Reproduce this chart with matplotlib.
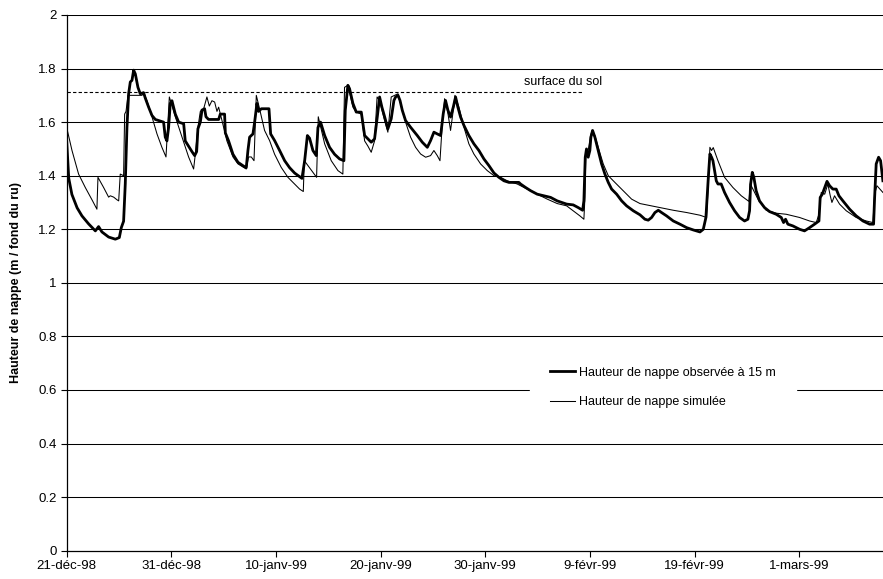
import matplotlib
matplotlib.use("Agg")
import matplotlib.pyplot as plt

plt.rcParams['font.family'] = ['Liberation Sans', 'DejaVu Sans']

# days since 21-déc-98
obs_days = [0.00, 0.20, 0.50, 1.00, 1.46, 2.10, 2.74, 3.05, 3.37, 4.01, 4.65, 5.03, 5.22, 5.44, 5.60,
            5.76, 5.92, 6.08, 6.24, 6.40, 6.56, 6.81, 7.03, 7.35, 7.51, 7.83, 8.15, 8.47, 8.79, 9.26,
            9.42, 9.58, 9.74, 9.90, 10.06, 10.38, 10.70, 11.18, 11.33, 11.65, 11.97, 12.23, 12.42,
            12.54, 12.77, 12.93, 13.18, 13.31, 13.56, 14.52, 14.68, 15.09, 15.16, 15.47, 15.89, 16.37,
            16.84, 17.16, 17.32, 17.48, 17.80, 17.96, 18.18, 18.34, 18.60, 19.33, 19.49, 19.87, 20.35,
            20.83, 21.30, 21.78, 22.26, 22.48, 22.74, 23.00, 23.21, 23.53, 23.85, 24.01, 24.26, 24.65,
            25.12, 25.60, 26.08, 26.49, 26.62, 26.87, 27.03, 27.35, 27.67, 28.15, 28.47, 28.79, 29.10,
            29.42, 29.68, 29.90, 30.12, 30.38, 30.69, 31.01, 31.27, 31.43, 31.66, 31.85, 32.07, 32.38,
            32.86, 33.50, 33.98, 34.46, 34.77, 35.09, 35.41, 35.73, 35.98, 36.20, 36.43, 36.68, 36.94,
            37.16, 37.38, 37.64, 37.96, 38.43, 38.91, 39.39, 39.87, 40.35, 40.83, 41.30, 41.78, 42.26,
            42.74, 43.21, 43.37, 43.85, 44.33, 44.96, 45.60, 46.24, 46.87, 47.77, 48.40, 48.88, 49.30,
            49.42, 49.55, 49.67, 49.83, 49.99, 50.09, 50.25, 50.47, 50.79, 51.11, 51.43, 51.75, 52.07,
            52.55, 53.03, 53.50, 54.14, 54.78, 55.25, 55.57, 55.89, 56.21, 56.53, 56.84, 57.32, 57.96,
            58.60, 59.24, 59.87, 60.51, 60.83, 61.08, 61.31, 61.46, 61.62, 61.75, 62.07, 62.23, 62.54,
            62.86, 63.34, 63.82, 64.30, 64.77, 65.09, 65.25, 65.35, 65.51, 65.66, 65.88, 66.20, 66.68,
            67.16, 67.80, 68.28, 68.50, 68.69, 68.91, 69.39, 70.03, 70.50, 70.98, 71.46, 71.88, 72.00,
            72.20, 72.43, 72.65, 72.90, 73.21, 73.53, 73.79, 74.17, 74.81, 75.44, 76.08, 76.72, 77.10,
            77.20, 77.35, 77.58, 77.77, 77.99]
obs_vals = [1.53, 1.39, 1.33, 1.28, 1.25, 1.22, 1.194, 1.21, 1.19, 1.171, 1.163, 1.169, 1.206, 1.23, 1.37,
            1.58, 1.706, 1.75, 1.756, 1.794, 1.78, 1.73, 1.706, 1.71, 1.69, 1.656, 1.625, 1.61, 1.606, 1.60,
            1.544, 1.53, 1.58, 1.67, 1.68, 1.63, 1.60, 1.594, 1.53, 1.51, 1.49, 1.475, 1.49,
            1.575, 1.60, 1.645, 1.65, 1.62, 1.61, 1.61, 1.63, 1.63, 1.56, 1.53, 1.48, 1.45,
            1.4375, 1.43, 1.494, 1.544, 1.556, 1.60, 1.67, 1.64, 1.65, 1.65, 1.556, 1.531, 1.494,
            1.456, 1.43, 1.41, 1.396, 1.39, 1.456, 1.55, 1.54, 1.494, 1.475, 1.58, 1.60, 1.55,
            1.506, 1.48, 1.4625, 1.456, 1.644, 1.7375, 1.725, 1.67, 1.6375, 1.6375, 1.55, 1.5375, 1.525,
            1.5375, 1.62, 1.694, 1.656, 1.62, 1.575, 1.6125, 1.681, 1.694, 1.70, 1.681, 1.644, 1.606,
            1.581, 1.55, 1.525, 1.506, 1.531, 1.5625, 1.556, 1.55, 1.631, 1.681, 1.644, 1.619, 1.656,
            1.694, 1.656, 1.619, 1.5875, 1.55, 1.519, 1.494, 1.4625, 1.4375, 1.41, 1.394, 1.381, 1.375,
            1.375, 1.375, 1.369, 1.356, 1.344, 1.331, 1.325, 1.319, 1.306, 1.294, 1.291, 1.281, 1.271,
            1.306, 1.469, 1.50, 1.469, 1.494, 1.544, 1.569, 1.544, 1.494, 1.444, 1.406, 1.375, 1.35,
            1.331, 1.306, 1.2875, 1.269, 1.254, 1.2375, 1.234, 1.244, 1.2625, 1.271, 1.2625, 1.25, 1.231,
            1.219, 1.206, 1.1975, 1.19, 1.20, 1.244, 1.394, 1.481, 1.469, 1.456, 1.381, 1.369, 1.369,
            1.3375, 1.30, 1.269, 1.244, 1.231, 1.2375, 1.269, 1.369, 1.4125, 1.394, 1.344, 1.306, 1.281,
            1.266, 1.256, 1.244, 1.225, 1.2375, 1.219, 1.2125, 1.20, 1.194, 1.206, 1.219, 1.231, 1.319,
            1.331, 1.356, 1.379, 1.3625, 1.35, 1.35, 1.325, 1.306, 1.275, 1.25, 1.231, 1.219, 1.219,
            1.319, 1.444, 1.469, 1.456, 1.381]

sim_days = [0.00, 0.51, 1.14, 1.78, 2.42, 2.89, 2.99, 3.53, 4.01, 4.17, 4.49, 4.81, 4.97, 5.12, 5.44,
            5.54, 5.67, 5.86, 7.20, 7.35, 7.67, 8.15, 8.63, 9.10, 9.49, 9.81, 10.38, 11.02, 11.65, 12.13,
            12.29, 12.54, 12.77, 13.09, 13.40, 13.63, 13.88, 14.14, 14.36, 14.52, 14.84, 15.31, 15.89,
            16.37, 17.16, 17.38, 17.64, 17.90, 18.12, 18.43, 18.91, 19.39, 19.87, 20.50, 21.14, 21.78,
            22.26, 22.61, 22.71, 23.88, 24.04, 24.65, 25.28, 25.92, 26.39, 26.55, 26.87, 27.35, 27.67,
            28.15, 28.47, 28.79, 29.10, 29.42, 29.66, 29.90, 30.38, 30.69, 30.92, 31.01, 31.66, 31.91,
            32.38, 32.86, 33.34, 33.82, 34.30, 34.77, 35.09, 35.41, 35.67, 35.89, 36.11, 36.36, 36.68,
            36.94, 37.10, 37.48, 37.96, 38.43, 38.91, 39.55, 40.19, 40.83, 41.46, 42.10, 43.05, 44.00,
            44.96, 45.92, 46.87, 47.77, 48.40, 49.04, 49.42, 49.52, 49.61, 49.83, 50.06, 50.22, 50.47,
            50.79, 51.27, 51.75, 52.38, 53.18, 53.98, 54.78, 55.41, 56.68, 57.96, 59.24, 60.51, 61.14,
            61.31, 61.46, 61.62, 61.78, 62.23, 62.86, 63.66, 64.46, 65.19, 65.32, 65.41, 66.05, 66.84,
            67.80, 68.76, 70.03, 70.98, 71.62, 71.88, 72.10, 72.43, 72.73, 72.96, 73.12, 73.37, 73.85,
            74.49, 75.44, 76.40, 77.04, 77.20, 77.42, 77.99]
sim_vals = [1.58, 1.494, 1.406, 1.356, 1.31, 1.275, 1.394, 1.356, 1.32, 1.325, 1.32, 1.31, 1.306, 1.406, 1.40,
            1.63, 1.64, 1.70, 1.70, 1.712, 1.68, 1.62, 1.556, 1.506, 1.47, 1.694, 1.62, 1.544, 1.47, 1.425,
            1.48, 1.58, 1.64, 1.65, 1.694, 1.66, 1.68, 1.675, 1.64, 1.656, 1.606, 1.53, 1.47,
            1.444, 1.425, 1.47, 1.47, 1.456, 1.70, 1.65, 1.569, 1.531, 1.48, 1.431, 1.394, 1.369,
            1.35, 1.341, 1.456, 1.394, 1.62, 1.519, 1.456, 1.419, 1.406, 1.73, 1.7375, 1.656, 1.6375,
            1.63, 1.53, 1.51, 1.4875, 1.53, 1.694, 1.68, 1.606, 1.5625, 1.656, 1.694, 1.706, 1.669,
            1.60, 1.544, 1.506, 1.481, 1.469, 1.475, 1.494, 1.475, 1.456, 1.594, 1.6875, 1.65, 1.569,
            1.644, 1.70, 1.656, 1.581, 1.519, 1.481, 1.444, 1.419, 1.40, 1.394, 1.381, 1.369, 1.35,
            1.331, 1.3125, 1.296, 1.2875, 1.269, 1.25, 1.2375, 1.319, 1.494, 1.494, 1.55, 1.569, 1.55,
            1.506, 1.444, 1.40, 1.375, 1.344, 1.3125, 1.296, 1.291, 1.281, 1.271, 1.2625, 1.2525, 1.244,
            1.369, 1.506, 1.494, 1.505, 1.456, 1.394, 1.356, 1.325, 1.304, 1.369, 1.3625, 1.3125, 1.271,
            1.26, 1.256, 1.244, 1.231, 1.225, 1.256, 1.3375, 1.331, 1.369, 1.325, 1.30, 1.325, 1.294,
            1.269, 1.244, 1.231, 1.225, 1.331, 1.3625, 1.3375]

surface_sol = 1.711
surface_end = 49.3

tick_days = [0, 10, 20, 30, 40, 50, 60, 70]
tick_labels = ["21-déc-98", "31-déc-98", "10-janv-99", "20-janv-99", "30-janv-99",
               "9-févr-99", "19-févr-99", "1-mars-99"]
y_ticks = [0, 0.2, 0.4, 0.6, 0.8, 1, 1.2, 1.4, 1.6, 1.8, 2]
y_labels = ["0", "0.2", "0.4", "0.6", "0.8", "1", "1.2", "1.4", "1.6", "1.8", "2"]

fig = plt.figure(figsize=(8.83, 5.79), dpi=100)
ax = fig.add_axes([0.0755, 0.0489, 0.9245, 0.9252])

for yv in y_ticks[1:]:
    ax.axhline(yv, color="black", lw=0.75, zorder=1)

ax.plot([0, surface_end], [surface_sol, surface_sol], color="black", lw=0.8,
        linestyle=(0, (3, 2)), zorder=2)
ax.text(47.4, 1.749, "surface du sol", fontsize=9, ha="center", va="center")

ax.plot(obs_days, obs_vals, color="black", lw=2.0, label="Hauteur de nappe observée à 15 m", zorder=3)
ax.plot(sim_days, sim_vals, color="black", lw=0.75, label="Hauteur de nappe simulée", zorder=4)

ax.set_xlim(0, 78)
ax.set_ylim(0, 2)
ax.set_xticks(tick_days)
ax.set_xticklabels(tick_labels, fontsize=9.5)
ax.set_yticks(y_ticks)
ax.set_yticklabels(y_labels, fontsize=9.5)
ax.tick_params(direction="out", length=4, width=0.8, pad=3)
ax.spines["top"].set_visible(False)
ax.spines["right"].set_visible(False)
ax.spines["left"].set_linewidth(0.9)
ax.spines["bottom"].set_linewidth(0.9)
ax.set_ylabel("Hauteur de nappe (m / fond du ru)", fontsize=9, fontweight="bold", labelpad=12)

leg = ax.legend(loc="center", bbox_to_anchor=(57.0, 0.61), bbox_transform=ax.transData,
                fontsize=9, frameon=True, fancybox=False, framealpha=1, facecolor="white",
                edgecolor="white", handlelength=2.0, handletextpad=0.3, labelspacing=1.4,
                borderpad=1.6)
leg.set_zorder(5)

fig.savefig("out.png", dpi=100)
